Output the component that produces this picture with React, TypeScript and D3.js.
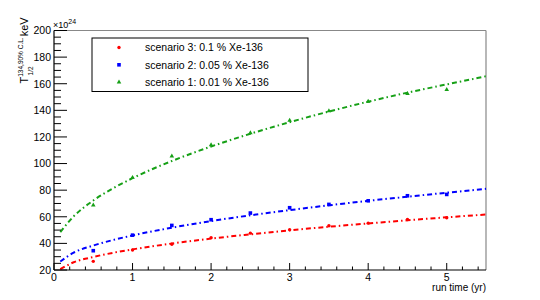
import React from 'react';
import * as d3 from 'd3';

// measured points (run time in yr, limit in 1e24)
const runTimes = [0.5, 1, 1.5, 2, 2.5, 3, 3.5, 4, 4.5, 5];
const scenario3 = [26.5, 35, 39.3, 44.3, 47.7, 50.3, 53.3, 55.2, 58, 59.3];
const scenario2 = [34.5, 46.2, 53.5, 57.8, 62.8, 66.8, 69.3, 72, 75.8, 76.8];
const scenario1 = [68.8, 89.5, 105.5, 114, 123, 132.5, 139.5, 146.7, 152.5, 155.5];

// fitted curves
const fitTimes = [0.08, 0.25, 0.5, 0.75, 1, 1.5, 2, 2.5, 3, 3.5, 4, 4.5, 5, 5.5];
const fit3 = [20.6, 25.8, 29.8, 32.9, 35.5, 39.9, 43.6, 46.8, 49.8, 52.5, 55, 57.4, 59.6, 61.7];
const fit2 = [26.4, 33, 38.4, 42.5, 46, 51.8, 56.8, 61.1, 65, 68.6, 72, 75.1, 78.1, 81.0];
const fit1 = [48.5, 60.3, 72.2, 81.3, 89.0, 101.9, 112.8, 122.4, 131.1, 139.1, 146.5, 153.3, 159.5, 165.6];

const yTicks = [20, 40, 60, 80, 100, 120, 140, 160, 180, 200];
const xTicks = [0, 1, 2, 3, 4, 5];
const legendLabels = ['scenario 3: 0.1 % Xe-136', 'scenario 2: 0.05 % Xe-136', 'scenario 1: 0.01 % Xe-136'];

const W = 540;
const H = 300;
const left = 54, right = 486, top = 30.5, bottom = 270;
const font = '"Liberation Sans", Arial, sans-serif';

const App = () => {
  const x = d3.scaleLinear().domain([0, 5.5]).range([left, right]);
  const y = d3.scaleLinear().domain([20, 200]).range([bottom, top]);

  const series = [
    { pts: scenario3, fit: fit3, color: '#ff0000', shape: 'circle' },
    { pts: scenario2, fit: fit2, color: '#0000ff', shape: 'square' },
    { pts: scenario1, fit: fit1, color: '#16a016', shape: 'triangle' },
  ];

  const line = d3
    .line<number>()
    .x((_, i) => x(fitTimes[i]))
    .y((d) => y(d))
    .curve(d3.curveMonotoneX);

  const tri = d3.symbol().type(d3.symbolTriangle).size(9);

  const marker = (shape: string, cx: number, cy: number, color: string, key: any) => {
    if (shape === 'circle') return <circle key={key} cx={cx} cy={cy} r={1.7} fill={color} />;
    if (shape === 'square') return <rect key={key} x={cx - 1.8} y={cy - 1.8} width={3.6} height={3.6} fill={color} />;
    return <path key={key} d={tri() as string} transform={`translate(${cx},${cy})`} fill={color} />;
  };

  const yMinor = d3.range(20, 201, 5);
  const xMinor = d3.range(0, 5.51, 0.2);

  return (
    <svg width={W} height={H} style={{ position: 'absolute', left: 0, top: 0, background: '#fff' }} fontFamily={font}>
      {/* frame */}
      <line x1={left} x2={right} y1={top} y2={top} stroke="#888" strokeWidth={1.2} />
      <line x1={right} x2={right} y1={top} y2={bottom} stroke="#888" strokeWidth={1.2} />

      {/* fits */}
      {series.map((s, i) => (
        <path key={'f' + i} d={line(s.fit) as string} fill="none" stroke={s.color} strokeWidth={2}
          strokeDasharray="5 3 1.5 3" />
      ))}

      {/* points */}
      {series.map((s, i) => (
        <g key={'p' + i}>{s.pts.map((v, j) => marker(s.shape, x(runTimes[j]), y(v), s.color, j))}</g>
      ))}

      {/* y axis */}
      <line x1={left} x2={left} y1={top} y2={bottom} stroke="#000" strokeWidth={1.2} />
      {yMinor.map((v) => (
        <line key={'ym' + v} x1={left} x2={left + (v % 20 === 0 ? 13 : 7)} y1={y(v)} y2={y(v)} stroke="#000" strokeWidth={1} />
      ))}
      {yTicks.map((v) => (
        <text key={'yt' + v} x={left - 3} y={y(v)} dy="0.36em" textAnchor="end" fontSize={10.5} fill="#000">{v}</text>
      ))}
      <text x={left - 1} y={top - 3} fontSize={9} fill="#000">
        ×10<tspan fontSize={7} dy={-4}>24</tspan>
      </text>
      <text transform={`translate(28,${top + 53}) rotate(-90)`} fontSize={11} fill="#000">
        T
        <tspan fontSize={6.5} dy={-5}>134,90% C.L.</tspan>
        <tspan fontSize={6.5} dx={-38} dy={10}>1/2</tspan>
        <tspan fontSize={11} dx={30} dy={-5}>keV</tspan>
      </text>

      {/* x axis */}
      <line x1={left} x2={right} y1={bottom} y2={bottom} stroke="#000" strokeWidth={1.2} />
      {xMinor.map((v) => {
        const major = Math.abs(v - Math.round(v)) < 1e-6;
        return <line key={'xm' + v} x1={x(v)} x2={x(v)} y1={bottom} y2={bottom - (major ? 7 : 3.5)} stroke="#000" strokeWidth={1} />;
      })}
      {xTicks.map((v) => (
        <text key={'xt' + v} x={x(v)} y={bottom + 11} textAnchor="middle" fontSize={10.5} fill="#000">{v}</text>
      ))}
      <text x={right} y={bottom + 21} textAnchor="end" fontSize={10} fill="#000">run time (yr)</text>

      {/* legend */}
      <rect x={92} y={38} width={216} height={53.5} fill="#fff" stroke="#000" strokeWidth={1} />
      {series.map((s, i) => (
        <g key={'l' + i}>
          {marker(s.shape, 119, 47.5 + i * 17.3, s.color, 'm')}
          <text x={145} y={47.5 + i * 17.3} dy="0.36em" fontSize={10.5} fill="#000">{legendLabels[i]}</text>
        </g>
      ))}
    </svg>
  );
};

export default App;
